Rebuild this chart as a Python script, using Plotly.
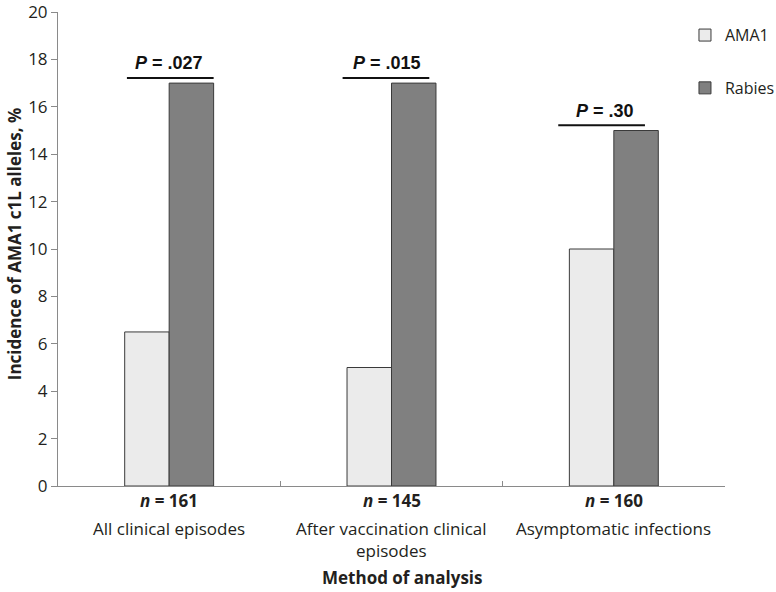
import plotly.graph_objects as go

# ---- data ----
categories = ["All clinical episodes", "After vaccination clinical episodes", "Asymptomatic infections"]
category_display = ["All clinical episodes", "After vaccination clinical<br>episodes", "Asymptomatic infections"]
n_values = [161, 145, 160]
ama1_values = [6.5, 5, 10]
rabies_values = [17, 17, 15]
p_labels = [".027", ".015", ".30"]
series_names = ["AMA1", "Rabies"]
y_ticks = list(range(0, 21, 2))

# ---- styling ----
FONT = "Open Sans"
TXT = "#231f20"
AXIS = "#8a8a8a"

fig = go.Figure()
fig.add_trace(go.Bar(
    x=categories, y=ama1_values, name=series_names[0],
    marker=dict(color="#ebebeb", line=dict(color="#3a3a3a", width=1)),
    legendgroup="a",
))
fig.add_trace(go.Bar(
    x=categories, y=rabies_values, name=series_names[1],
    marker=dict(color="#808080", line=dict(color="#3a3a3a", width=1)),
    legendgroup="b",
))

annotations = []
shapes = []
for i, cat in enumerate(categories):
    # n label
    annotations.append(dict(
        x=cat, xref="x", y=-0.031, yref="paper", yanchor="middle",
        text=f"<b><i>n</i> = {n_values[i]}</b>", showarrow=False,
        font=dict(family=FONT, size=17, color=TXT),
    ))
    # category label
    annotations.append(dict(
        x=cat, xref="x", y=-0.062, yref="paper", yanchor="top",
        text=category_display[i], showarrow=False,
        font=dict(family=FONT, size=17, color=TXT),
    ))
    # P value bracket
    ly = rabies_values[i] + 0.22
    shapes.append(dict(
        type="line", xref="x", yref="y",
        x0=i - 0.19 - 0.03 * i, x1=i + 0.2 - 0.03 * i, y0=ly, y1=ly,
        line=dict(color="#111111", width=2),
    ))
    annotations.append(dict(
        x=i - 0.02 * i, xref="x", y=ly + 0.62, yref="y", yanchor="middle",
        text=f"<b><i>P</i> = {p_labels[i]}</b>", showarrow=False,
        font=dict(family="Liberation Sans", size=18, color="#111111"),
    ))

# axis titles
annotations.append(dict(
    x=-0.066, xref="paper", y=0.51, yref="paper", textangle=-90,
    text="<b>Incidence of AMA1 c1L alleles, %</b>", showarrow=False,
    xanchor="center", yanchor="middle",
    font=dict(family=FONT, size=17, color=TXT),
))
annotations.append(dict(
    x=0.517, xref="paper", y=-0.192, yref="paper",
    text="<b>Method of analysis</b>", showarrow=False,
    xanchor="center", yanchor="middle",
    font=dict(family=FONT, size=17, color=TXT),
))

fig.update_layout(
    width=776, height=592,
    margin=dict(l=58, r=51, t=12, b=106, autoexpand=False),
    paper_bgcolor="white", plot_bgcolor="white",
    barmode="group", bargap=0.6, bargroupgap=0,
    font=dict(family=FONT, size=17, color=TXT),
    showlegend=True,
    legend=dict(
        x=0.94, xanchor="left", y=0.987, yanchor="top",
        font=dict(family=FONT, size=16, color=TXT),
        tracegroupgap=29, bgcolor="rgba(0,0,0,0)",
        itemwidth=30,
    ),
    annotations=annotations,
    shapes=shapes,
)
fig.update_xaxes(
    type="category", showline=True, linecolor=AXIS, linewidth=1,
    ticks="inside", tickson="boundaries", ticklen=5, tickcolor=AXIS,
    showticklabels=False, showgrid=False, zeroline=False, automargin=False,
)
fig.update_yaxes(
    range=[0, 20], tickvals=y_ticks, showline=True, linecolor=AXIS, linewidth=1,
    ticks="outside", ticklen=6, tickcolor=AXIS, showgrid=False, zeroline=False,
    tickfont=dict(family=FONT, size=17, color=TXT), automargin=False,
    ticklabeloverflow="allow",
)

fig.write_html(
    "out.html",
    config={"displayModeBar": False},
    post_script="document.body.style.margin='0px';document.body.style.overflow='hidden';",
)
